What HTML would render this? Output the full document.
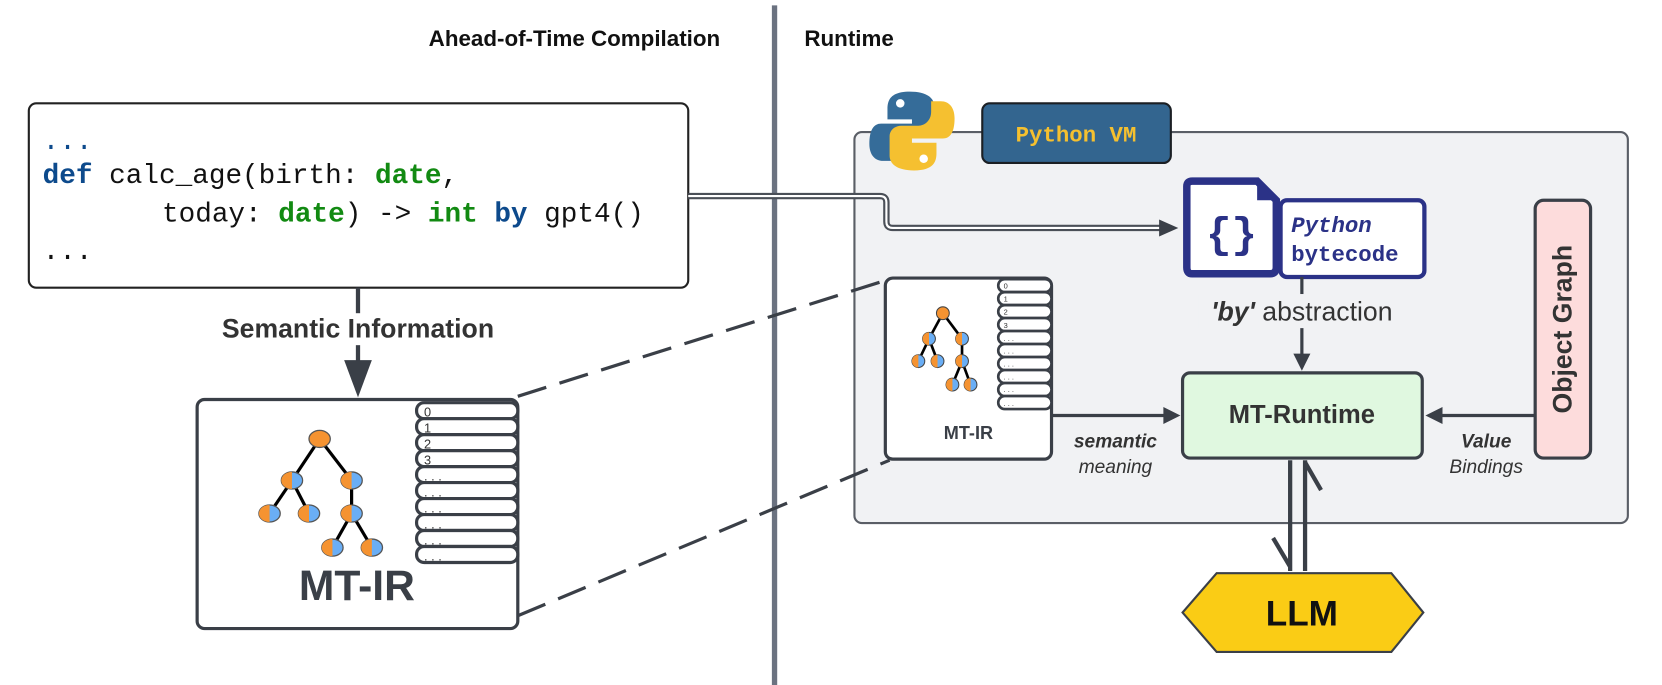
<!DOCTYPE html>
<html><head><meta charset="utf-8"><style>html,body{margin:0;padding:0;background:#fff}svg{display:block}</style></head>
<body>
<svg width="1662" height="685" viewBox="0 0 1560 643" xmlns="http://www.w3.org/2000/svg" font-family="Liberation Sans, sans-serif">
<!-- divider -->
<line x1="727" y1="5" x2="727" y2="645" stroke="#6b7280" stroke-width="5"/>
<text x="676" y="43" text-anchor="end" font-weight="bold" font-size="21" fill="#111">Ahead-of-Time Compilation</text>
<text x="755" y="43" font-weight="bold" font-size="21" fill="#111">Runtime</text>

<!-- VM container -->
<rect x="802" y="124" width="726" height="367" rx="7" fill="#f1f2f4" stroke="#5a5e66" stroke-width="2"/>

<!-- code box -->
<rect x="27" y="97" width="619" height="173" rx="7" fill="#fff" stroke="#222" stroke-width="2"/>
<g font-family="Liberation Mono, monospace" font-size="26">
<text x="40" y="140" fill="#0d4a8c">...</text>
<text x="40" y="172" fill="#111"><tspan fill="#0d4a8c" font-weight="bold">def</tspan> calc_age(birth: <tspan fill="#128a12" font-weight="bold">date</tspan>,</text>
<text x="152" y="208" fill="#111">today: <tspan fill="#128a12" font-weight="bold">date</tspan>) -&gt; <tspan fill="#128a12" font-weight="bold">int</tspan> <tspan fill="#0d4a8c" font-weight="bold">by</tspan> gpt4()</text>
<text x="40" y="243" fill="#111">...</text>
</g>

<!-- code -> bytecode double line -->
<path d="M646,184 L826,184 Q832,184 832,190 L832,208 Q832,214 838,214 L1090,214" fill="none" stroke="#4a4f57" stroke-width="6"/>
<path d="M646,184 L826,184 Q832,184 832,190 L832,208 Q832,214 838,214 L1090,214" fill="none" stroke="#fff" stroke-width="2"/>
<path d="M1088,206 L1106,214 L1088,222 z" fill="#3a3f47"/>

<!-- semantic info arrow -->
<line x1="336" y1="270" x2="336" y2="345" stroke="#3a3f47" stroke-width="4"/>
<path d="M323,338 L349,338 L336,373 z" fill="#3a3f47"/>
<rect x="196" y="294" width="280" height="30" fill="#fff"/>
<text x="336" y="317" text-anchor="middle" font-weight="bold" font-size="25" fill="#333">Semantic Information</text>

<!-- dashed lines -->
<line x1="486" y1="372" x2="835" y2="262" stroke="#3a3f47" stroke-width="3" stroke-dasharray="28,13"/>
<line x1="486" y1="578" x2="835" y2="432" stroke="#3a3f47" stroke-width="3" stroke-dasharray="28,13"/>

<!-- big MT-IR -->
<rect x="185" y="375" width="301" height="215" rx="7" fill="#fff" stroke="#3a3f47" stroke-width="3"/>
<g stroke="#3a3f47" stroke-width="3" fill="#fff">
<rect x="391" y="378" width="95" height="15" rx="7"/><rect x="391" y="393" width="95" height="15" rx="7"/>
<rect x="391" y="408" width="95" height="15" rx="7"/><rect x="391" y="423" width="95" height="15" rx="7"/>
<rect x="391" y="438" width="95" height="15" rx="7"/><rect x="391" y="453" width="95" height="15" rx="7"/>
<rect x="391" y="468" width="95" height="15" rx="7"/><rect x="391" y="483" width="95" height="15" rx="7"/>
<rect x="391" y="498" width="95" height="15" rx="7"/><rect x="391" y="513" width="95" height="15" rx="7"/>
</g>
<g font-size="12" fill="#333">
<text x="398" y="391">0</text><text x="398" y="406">1</text><text x="398" y="421">2</text><text x="398" y="436">3</text>
<text x="398" y="451">. . .</text><text x="398" y="466">. . .</text><text x="398" y="481">. . .</text><text x="398" y="496">. . .</text><text x="398" y="511">. . .</text><text x="398" y="526">. . .</text>
</g>
<g stroke="#000" stroke-width="3">
<line x1="300" y1="412" x2="274" y2="451"/><line x1="300" y1="412" x2="330" y2="451"/>
<line x1="274" y1="451" x2="253" y2="482"/><line x1="274" y1="451" x2="290" y2="482"/>
<line x1="330" y1="451" x2="330" y2="482"/><line x1="330" y1="482" x2="312" y2="514"/><line x1="330" y1="482" x2="349" y2="514"/>
</g>
<g stroke="#555" stroke-width="1.2">
<ellipse cx="300" cy="412" rx="10" ry="8" fill="#f59331"/>
<ellipse cx="274" cy="451" rx="10" ry="8" fill="#6aaef5"/><ellipse cx="330" cy="451" rx="10" ry="8" fill="#6aaef5"/>
<ellipse cx="253" cy="482" rx="10" ry="8" fill="#6aaef5"/><ellipse cx="290" cy="482" rx="10" ry="8" fill="#6aaef5"/>
<ellipse cx="330" cy="482" rx="10" ry="8" fill="#6aaef5"/><ellipse cx="312" cy="514" rx="10" ry="8" fill="#6aaef5"/><ellipse cx="349" cy="514" rx="10" ry="8" fill="#6aaef5"/>
</g>
<g fill="#f59331">
<path d="M274,443 A10,8 0 0 0 274,459 z"/><path d="M330,443 A10,8 0 0 0 330,459 z"/>
<path d="M253,474 A10,8 0 0 0 253,490 z"/><path d="M290,474 A10,8 0 0 0 290,490 z"/>
<path d="M330,474 A10,8 0 0 0 330,490 z"/><path d="M312,506 A10,8 0 0 0 312,522 z"/><path d="M349,506 A10,8 0 0 0 349,522 z"/>
</g>
<text x="335" y="563" text-anchor="middle" font-weight="bold" font-size="40" fill="#3a3f47">MT-IR</text>

<!-- python logo -->
<g>
<path d="M854,86 C836,86 833,94 833,102 L833,112 L856,112 L856,116 L827,116 C818,116 816,126 816,135 C816,145 821,151 829,151 L838,151 L838,141 C838,133 844,128 850,128 L866,128 C872,128 877,124 877,118 L877,100 C877,92 870,86 854,86 z" fill="#356c99"/>
<circle cx="845" cy="97" r="4" fill="#fff"/>
<path d="M858,160 C876,160 879,152 879,144 L879,134 L856,134 L856,130 L885,130 C894,130 896,120 896,111 C896,101 891,95 883,95 L874,95 L874,105 C874,113 868,118 862,118 L846,118 C840,118 835,122 835,128 L835,146 C835,154 842,160 858,160 z" fill="#f5c030"/>
<circle cx="867" cy="149" r="4" fill="#fff"/>
</g>
<rect x="922" y="97" width="177" height="56" rx="7" fill="#33658f" stroke="#1b1f24" stroke-width="2"/>
<text x="1010" y="133" text-anchor="middle" font-family="Liberation Mono, monospace" font-weight="bold" font-size="21" fill="#f5c02f">Python VM</text>

<!-- small MT-IR -->
<rect x="831" y="261" width="156" height="170" rx="7" fill="#fff" stroke="#3a3f47" stroke-width="3"/>
<g stroke="#3a3f47" stroke-width="2.5" fill="#fff">
<rect x="937" y="262" width="50" height="12.2" rx="6"/><rect x="937" y="274.2" width="50" height="12.2" rx="6"/>
<rect x="937" y="286.4" width="50" height="12.2" rx="6"/><rect x="937" y="298.6" width="50" height="12.2" rx="6"/>
<rect x="937" y="310.8" width="50" height="12.2" rx="6"/><rect x="937" y="323" width="50" height="12.2" rx="6"/>
<rect x="937" y="335.2" width="50" height="12.2" rx="6"/><rect x="937" y="347.4" width="50" height="12.2" rx="6"/>
<rect x="937" y="359.6" width="50" height="12.2" rx="6"/><rect x="937" y="371.8" width="50" height="12.2" rx="6"/>
</g>
<g font-size="7" fill="#333">
<text x="942" y="271">0</text><text x="942" y="283">1</text><text x="942" y="295">2</text><text x="942" y="308">3</text>
<text x="942" y="320">. . .</text><text x="942" y="332">. . .</text><text x="942" y="344">. . .</text><text x="942" y="356">. . .</text><text x="942" y="368">. . .</text><text x="942" y="381">. . .</text>
</g>
<g stroke="#000" stroke-width="2.5">
<line x1="885" y1="294" x2="872" y2="318"/><line x1="885" y1="294" x2="903" y2="318"/>
<line x1="872" y1="318" x2="862" y2="339"/><line x1="872" y1="318" x2="880" y2="339"/>
<line x1="903" y1="318" x2="903" y2="339"/><line x1="903" y1="339" x2="894" y2="361"/><line x1="903" y1="339" x2="911" y2="361"/>
</g>
<g stroke="#444" stroke-width="1">
<circle cx="885" cy="294" r="6" fill="#f59331"/>
<circle cx="872" cy="318" r="6" fill="#6aaef5"/><circle cx="903" cy="318" r="6" fill="#6aaef5"/>
<circle cx="862" cy="339" r="6" fill="#6aaef5"/><circle cx="880" cy="339" r="6" fill="#6aaef5"/>
<circle cx="903" cy="339" r="6" fill="#6aaef5"/><circle cx="894" cy="361" r="6" fill="#6aaef5"/><circle cx="911" cy="361" r="6" fill="#6aaef5"/>
</g>
<g fill="#f59331">
<path d="M872,312 A6,6 0 0 0 872,324 z"/><path d="M903,312 A6,6 0 0 0 903,324 z"/>
<path d="M862,333 A6,6 0 0 0 862,345 z"/><path d="M880,333 A6,6 0 0 0 880,345 z"/>
<path d="M903,333 A6,6 0 0 0 903,345 z"/><path d="M894,355 A6,6 0 0 0 894,367 z"/><path d="M911,355 A6,6 0 0 0 911,367 z"/>
</g>
<text x="909" y="412" text-anchor="middle" font-weight="bold" font-size="17" fill="#3a3f47">MT-IR</text>

<!-- bytecode -->
<path d="M1119,170 L1180,170 L1198,188 L1198,251 Q1198,257 1192,257 L1119,257 Q1114,257 1114,251 L1114,175 Q1114,170 1119,170 z" fill="#fff" stroke="#2b3287" stroke-width="7"/>
<path d="M1180,170 L1180,188 L1198,188 z" fill="#2b3287"/>
<text x="1156" y="232" text-anchor="middle" font-family="Liberation Mono, monospace" font-weight="bold" font-size="40" fill="#2b3287">{}</text>
<rect x="1202" y="188" width="135" height="72" rx="6" fill="#fff" stroke="#2b3287" stroke-width="4"/>
<text x="1212" y="218" font-family="Liberation Mono, monospace" font-weight="bold" font-style="italic" font-size="21" fill="#2b3287">Python</text>
<text x="1212" y="245" font-family="Liberation Mono, monospace" font-weight="bold" font-size="21" fill="#2b3287">bytecode</text>

<!-- by abstraction arrow -->
<line x1="1222" y1="260" x2="1222" y2="336" stroke="#3a3f47" stroke-width="3"/>
<rect x="1125" y="276" width="195" height="32" fill="#f1f2f4"/>
<text x="1222" y="301" text-anchor="middle" font-size="25" fill="#333"><tspan font-weight="bold" font-style="italic">'by'</tspan> abstraction</text>
<path d="M1214,332 L1230,332 L1222,348 z" fill="#3a3f47"/>

<!-- MT-Runtime -->
<rect x="1110" y="350" width="225" height="80" rx="7" fill="#e0f8e0" stroke="#3a3f47" stroke-width="3"/>
<text x="1222" y="397" text-anchor="middle" font-weight="bold" font-size="24" fill="#333">MT-Runtime</text>

<!-- Object graph -->
<rect x="1441" y="188" width="52" height="242" rx="8" fill="#fddcdc" stroke="#3a3f47" stroke-width="3"/>
<text transform="translate(1475,309) rotate(-90)" text-anchor="middle" font-weight="bold" font-size="25" fill="#333">Object Graph</text>

<!-- arrows to MT-Runtime -->
<line x1="987" y1="390" x2="1095" y2="390" stroke="#3a3f47" stroke-width="3"/>
<path d="M1092,382 L1108,390 L1092,398 z" fill="#3a3f47"/>
<line x1="1441" y1="390" x2="1352" y2="390" stroke="#3a3f47" stroke-width="3"/>
<path d="M1354,382 L1338,390 L1354,398 z" fill="#3a3f47"/>
<text x="1047" y="420" text-anchor="middle" font-weight="bold" font-style="italic" font-size="18" fill="#333">semantic</text>
<text x="1047" y="444" text-anchor="middle" font-style="italic" font-size="18" fill="#333">meaning</text>
<text x="1395" y="420" text-anchor="middle" font-weight="bold" font-style="italic" font-size="18" fill="#333">Value</text>
<text x="1395" y="444" text-anchor="middle" font-style="italic" font-size="18" fill="#333">Bindings</text>

<!-- LLM double arrows -->
<g stroke="#3a3f47" stroke-width="4" fill="none">
<path d="M1211,432 L1211,536"/><path d="M1195,505 L1211,532"/>
<path d="M1225,536 L1225,432"/><path d="M1225,434 L1240,460"/>
</g>
<path d="M1142,538 L1306,538 L1336,575 L1306,612 L1142,612 L1110,575 z" fill="#facc15" stroke="#3a3f47" stroke-width="2"/>
<text x="1222" y="587" text-anchor="middle" font-weight="bold" font-size="33" fill="#111">LLM</text>
</svg>
</body></html>
